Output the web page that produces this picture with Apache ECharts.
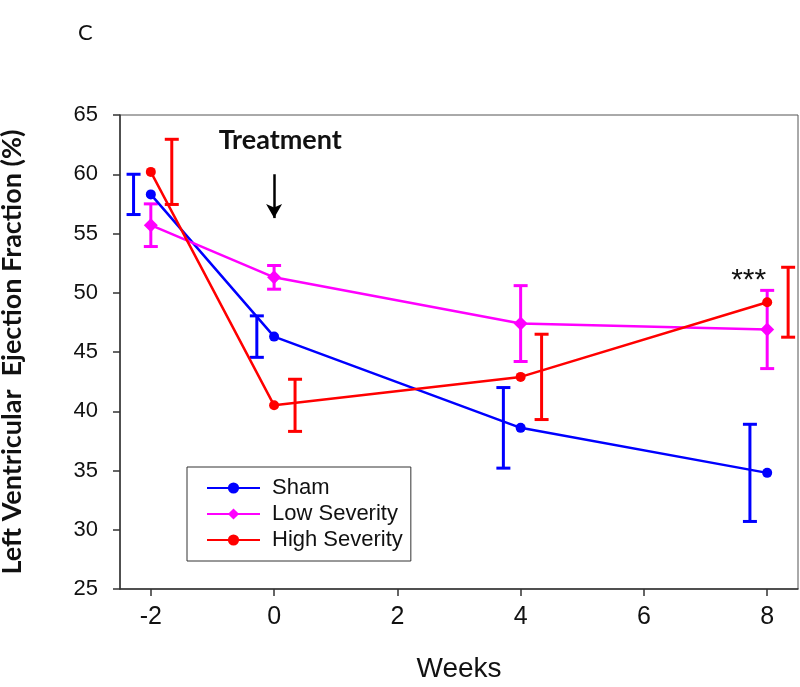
<!DOCTYPE html>
<html>
<head>
<meta charset="utf-8">
<script src="https://cdn.jsdelivr.net/npm/echarts@6/dist/echarts.min.js"></script>
<style>
  html, body { margin: 0; padding: 0; background: #fff; }
  #chart { width: 800px; height: 687px; }
</style>
</head>
<body>
<div id="chart"></div>
<script>
// weeks of measurement
var weeks = [-2, 0, 4, 8];
var weekTicks = [-2, 0, 2, 4, 6, 8];

// ejection fraction (%) means and error half-widths
var shamMean = [58.3, 46.3, 38.6, 34.8];
var shamErr  = [1.7, 1.75, 3.4, 4.1];
var lowMean  = [55.7, 51.3, 47.4, 46.9];
var lowErr   = [1.8, 1.0, 3.2, 3.3];
var highMean = [60.2, 40.5, 42.9, 49.2];
var highErr  = [2.75, 2.2, 3.6, 2.95];

var names = ['Sham', 'Low Severity', 'High Severity'];

function linePts(mean) {
    return weeks.map(function (w, i) { return [w, mean[i]]; });
}
// error bars are drawn a little beside the point (shift in weeks)
function errPts(mean, err, shift) {
    return weeks.map(function (w, i) { return [w + shift, mean[i] - err[i], mean[i] + err[i]]; });
}

function errSeries(name, color, data) {
    return {
        name: name + ' err',
        type: 'custom',
        data: data,
        encode: { x: 0, y: [1, 2] },
        z: 3,
        renderItem: function (params, api) {
            var top = api.coord([api.value(0), api.value(2)]);
            var bot = api.coord([api.value(0), api.value(1)]);
            var st = { stroke: color, lineWidth: 3 };
            var cap = 7;
            return {
                type: 'group',
                children: [
                    { type: 'line', shape: { x1: top[0], y1: top[1], x2: bot[0], y2: bot[1] }, style: st },
                    { type: 'line', shape: { x1: top[0] - cap, y1: top[1], x2: top[0] + cap, y2: top[1] }, style: st },
                    { type: 'line', shape: { x1: bot[0] - cap, y1: bot[1], x2: bot[0] + cap, y2: bot[1] }, style: st }
                ]
            };
        }
    };
}

function lineSeries(name, color, symbol, size, mean) {
    return {
        name: name,
        type: 'line',
        data: linePts(mean),
        symbol: symbol,
        symbolSize: size,
        showSymbol: true,
        z: 4,
        lineStyle: { color: color, width: 2.5 },
        itemStyle: { color: color }
    };
}

var chart = echarts.init(document.getElementById('chart'));
var axisStyle = { color: '#333', width: 1.5 };

var option = {
    animation: false,
    backgroundColor: '#fff',
    grid: {
        left: 120, right: 2, top: 115, bottom: 98,
        outerBoundsMode: 'none', containLabel: false,
        show: true, borderColor: '#555', borderWidth: 1
    },
    legend: {
        data: names,
        orient: 'vertical',
        left: 187,
        top: 467,
        itemWidth: 53,
        itemHeight: 14,
        itemGap: 4,
        padding: [10, 8, 10, 19],
        borderColor: '#333',
        borderWidth: 1,
        backgroundColor: '#fff',
        textStyle: { fontFamily: 'Liberation Sans', fontSize: 22, color: '#111', lineHeight: 22, padding: [0, 0, 0, 7] }
    },
    xAxis: {
        type: 'value',
        min: -2.5,
        max: 8.5,
        name: 'Weeks',
        nameLocation: 'middle',
        nameGap: 66,
        nameTextStyle: { fontFamily: 'Liberation Sans', fontSize: 28, color: '#111' },
        axisLine: { onZero: false, lineStyle: axisStyle },
        axisTick: { length: 7, lineStyle: axisStyle, customValues: weekTicks },
        axisLabel: { fontFamily: 'Liberation Sans', fontSize: 25, color: '#111', margin: 16, customValues: weekTicks },
        splitLine: { show: false }
    },
    yAxis: {
        type: 'value',
        min: 25,
        max: 65,
        interval: 5,
        name: 'Left Ventricular  Ejection Fraction (%)',
        nameLocation: 'middle',
        nameGap: 94,
        nameRotate: 90,
        nameTextStyle: { fontFamily: 'Lato', fontWeight: 'bold', fontSize: 27, color: '#111' },
        axisLine: { show: true, onZero: false, lineStyle: axisStyle },
        axisTick: { show: true, length: 7, lineStyle: axisStyle },
        axisLabel: { fontFamily: 'Liberation Sans', fontSize: 22, color: '#111', margin: 22 },
        splitLine: { show: false }
    },
    series: [
        errSeries('Sham', '#0000ff', errPts(shamMean, shamErr, -0.28)),
        errSeries('Low Severity', '#ff00ff', errPts(lowMean, lowErr, 0)),
        errSeries('High Severity', '#ff0000', errPts(highMean, highErr, 0.34)),
        lineSeries('Sham', '#0000ff', 'circle', 10, shamMean),
        lineSeries('Low Severity', '#ff00ff', 'diamond', 14, lowMean),
        {
            name: 'High Severity',
            type: 'line',
            data: linePts(highMean),
            symbol: 'circle',
            symbolSize: 10,
            z: 4,
            lineStyle: { color: '#ff0000', width: 2.5 },
            itemStyle: { color: '#ff0000' },
            markLine: {
                silent: true,
                symbol: ['none', 'arrow'],
                symbolSize: [12, 14],
                label: { show: false },
                lineStyle: { color: '#000', width: 2.5, type: 'solid' },
                data: [[{ coord: [0, 60] }, { coord: [0, 56.3] }]]
            }
        }
    ]
};
chart.setOption(option);

// annotations placed from data coordinates
var tPos = chart.convertToPixel({ gridIndex: 0 }, [0.1, 62.9]);
var sPos = chart.convertToPixel({ gridIndex: 0 }, [7.7, 51.0]);
chart.setOption({
    graphic: [
        { type: 'text', left: 78, top: 22, style: { text: 'C', font: '22px Lato', fill: '#111' } },
        { type: 'text', x: tPos[0], y: tPos[1], style: { text: 'Treatment', font: 'bold 27px Lato', fill: '#111', align: 'center', verticalAlign: 'middle' } },
        { type: 'text', x: sPos[0], y: sPos[1], style: { text: '***', font: '30px Liberation Sans', fill: '#111', align: 'center', verticalAlign: 'middle' } }
    ]
});
</script>
</body>
</html>
